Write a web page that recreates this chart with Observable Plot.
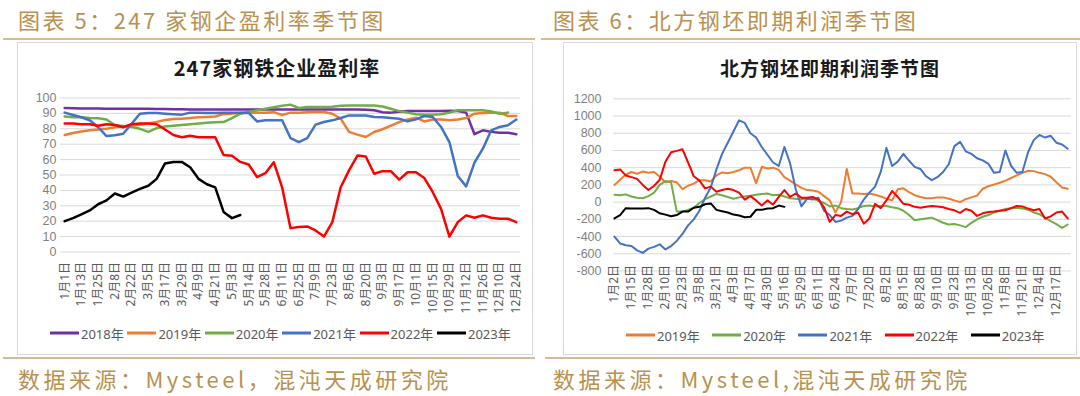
<!DOCTYPE html>
<html lang="zh-CN">
<head>
<meta charset="utf-8">
<script src="https://cdn.jsdelivr.net/npm/d3@7"></script>
<script src="https://cdn.jsdelivr.net/npm/@observablehq/plot@0.6"></script>
<style>
html,body{margin:0;padding:0;background:#fff;}
#page{position:relative;width:1080px;height:396px;overflow:hidden;font-family:"Noto Sans CJK SC","Noto Sans",sans-serif;}
.hd{position:absolute;font-size:22px;line-height:26px;color:#b8914f;letter-spacing:2.5px;white-space:nowrap;}
.rule{position:absolute;height:2px;background:#d4bb92;}
.box{position:absolute;top:42px;height:313px;border:1px solid #d9d9d9;box-sizing:border-box;background:#fff;}
.ttl{position:absolute;font-weight:700;color:#1a1a1a;white-space:nowrap;transform:translate(-50%,-50%);}
.leg{position:absolute;display:flex;align-items:center;font-family:"Noto Sans","Noto Sans CJK SC",sans-serif;font-size:13px;color:#595959;white-space:nowrap;transform:translateY(-50%);}
.leg i{display:inline-block;width:29px;height:3px;margin-right:2px;}
.plot{position:absolute;}
</style>
</head>
<body>
<div id="page"></div>
<script>
// ---------- Chart 5: 247家钢铁企业盈利率 (weekly, %) ----------
const lbl5 = ["1月1日","1月13日","1月25日","2月8日","2月22日","3月5日","3月17日","3月29日","4月9日","4月21日","5月3日","5月14日","5月28日","6月11日","6月25日","7月9日","7月23日","8月6日","8月20日","9月3日","9月17日","10月1日","10月15日","10月29日","11月12日","11月26日","12月10日","12月24日"];
const yTicks5 = [0,10,20,30,40,50,60,70,80,90,100];
const s2018 = [93.5,93.3,93.2,93.2,93.2,93.1,93.1,93.1,93,93,93,
  92.8,92.8,92.7,92.7,92.6,92.5,92.5,92.5,92.5,92.5,92.5,92.5,92.5,92.5,92.5,92.5,92.5,92.5,92.5,92.5,92.5,92.5,92.5,92.5,92.5,92.3,92,
  90.8,90.5,91,91.5,91.5,91.5,91.5,91.5,91.8,91.5,90.5,76.5,79,78,77.5,77.5,76.5];
const s2019 = [76,77.3,78.3,79,79.5,80,81,81.6,82,82.7,
  83.5,84.5,85.7,86.3,86.6,87,87.5,87.7,88,89.5,
  90,90.3,90.5,90.5,90.5,90.8,89,90.5,90.5,90.7,
  90.9,90.9,89.8,86.6,78,76.2,74.7,77.9,79.7,82,
  84.4,86.1,87.2,84.8,86,86.1,85.5,86,87,89.8,
  90.3,90.5,90.5,88.3,88.3];
const s2020 = [88,87.5,87.5,87,86.8,86,82.3,81.8,81.2,80,
  78,80.5,81.5,82,82.5,83,83.5,84,84.2,84.4,
  87,89.8,91,92,93,94,95,95.7,93.5,94.2,
  94.2,94.2,94.3,95,95.2,95.2,95.2,95.2,94.5,93,
  91.5,90.5,89.5,89.2,89.2,89.5,90.5,92,92,92,
  92,91.2,89.8,90.5];
const s2021 = [90.5,89,87.5,85.5,81,75.3,75.8,76.8,83.3,89.8,
  90.3,90.2,89.8,89.5,89.2,90.5,90.4,90.3,90.3,90.4,
  90.5,90.5,90.3,84.8,85.5,85.5,85.5,74,71.4,74,
  82.7,84.4,85.5,87,88.7,88.7,88.7,87.7,87.5,87,
  86.6,84.8,86.1,88.3,87.7,81.2,71.4,49.4,42.6,58,
  67.1,79,81.2,82.3,86];
const s2022 = [83.5,83.5,83,83,82,83,82.5,81,83,83.5,
  83.5,83,79.5,76,74.5,75.5,74.5,74.5,74.5,63,
  62.5,58.5,56.8,48.6,51.2,58.3,42,15.5,16.2,16.6,
  14,10,19.4,42,53,62.6,62,50.8,52.5,52.5,
  47,51.8,51.8,48,39,28,10,19.4,23.8,22.2,
  23.8,22.2,21.6,21.6,19.4];
const s2023 = [20,22,24.5,27,31,33.5,38,36,38.5,41,43,47.5,57.5,58.5,58.5,55,47.5,44,42,26,22,24];

// ---------- Chart 6: 北方钢坯即期利润 (daily, sampled every 3 trading days) ----------
const lbl6 = ["1月2日","1月15日","1月28日","2月10日","2月23日","3月8日","3月21日","4月3日","4月17日","4月30日","5月16日","5月29日","6月11日","6月24日","7月7日","7月20日","8月2日","8月15日","8月28日","9月10日","9月23日","10月13日","10月26日","11月8日","11月21日","12月4日","12月17日"];
const yTicks6 = [-800,-600,-400,-200,0,200,400,600,800,1000,1200];
const p2019 = [200,260,320,350,330,355,340,350,295,230,
  245,230,150,190,215,255,255,240,310,345,
  335,350,370,400,400,220,410,390,400,375,
  290,250,205,165,140,135,120,70,20,-120,
  0,385,100,100,95,100,85,65,40,20,
  150,160,115,80,60,45,45,55,55,40,
  20,0,35,55,75,155,185,205,225,250,
  280,310,340,365,360,340,325,295,230,170,
  155];
const p2020 = [85,80,90,65,50,45,70,110,200,245,
  230,-110,-110,-90,-65,-10,35,65,95,80,
  60,40,55,65,75,85,95,100,80,85,
  65,45,40,30,45,40,15,-10,-50,-40,
  -70,-80,-85,-70,-45,-40,-50,-45,-45,-60,
  -70,-100,-150,-210,-200,-190,-180,-210,-240,-260,
  -255,-270,-290,-240,-200,-170,-150,-120,-100,-80,
  -70,-65,-75,-90,-120,-140,-180,-220,-255,-300,
  -260];
const p2021 = [-400,-480,-500,-510,-560,-590,-540,-520,-490,-550,
  -510,-450,-370,-270,-200,-100,50,170,380,560,
  690,820,950,920,800,750,640,550,460,420,
  640,450,150,-50,40,30,50,-100,-150,-230,
  -215,-180,-160,-80,30,110,180,350,630,420,
  470,560,480,410,385,300,255,290,350,440,
  650,700,590,560,510,485,445,340,350,600,
  420,340,350,580,720,780,750,770,690,670,
  620];
const p2022 = [370,380,310,290,270,200,140,190,260,470,
  580,595,615,460,300,250,160,180,120,140,
  155,140,110,30,70,20,-40,20,-30,60,
  140,60,100,50,50,60,30,-60,-230,-150,
  -160,-110,-140,-120,-250,-190,-20,-70,20,130,
  60,-20,-30,-55,-65,-55,-45,-50,-60,-80,
  -95,-125,-80,-100,-160,-130,-115,-110,-100,-95,
  -70,-45,-50,-75,-95,-80,-190,-165,-120,-110,
  -190];
const p2023 = [-190,-150,-70,-75,-75,-75,-70,-90,-130,-145,
  -165,-150,-110,-110,-65,-55,-25,-15,-90,-105,
  -120,-145,-155,-175,-170,-90,-90,-75,-70,-40,
  -55];

// ---------- styles ----------
const COL = {"2018年":"#7030a0","2019年":"#ed7d31","2020年":"#70ad47","2021年":"#4472c4","2022年":"#ff0000","2023年":"#000000"};
const series5 = [["2018年",s2018],["2019年",s2019],["2020年",s2020],["2021年",s2021],["2022年",s2022],["2023年",s2023]];
const series6 = [["2019年",p2019],["2020年",p2020],["2021年",p2021],["2022年",p2022],["2023年",p2023]];
const STEP6 = 3; // trading days between samples
const LBL_EVERY6 = 9; // trading days between axis labels

const page = document.getElementById("page");
function el(tag, cls, css, text){
  const e = document.createElement(tag);
  if (cls) e.className = cls;
  Object.assign(e.style, css || {});
  if (text != null) e.textContent = text;
  page.appendChild(e);
  return e;
}

// headers, rules, boxes, footers
el("div","hd",{left:"18px",top:"6px"},"图表 5：247 家钢企盈利率季节图");
el("div","hd",{left:"553px",top:"6px"},"图表 6：北方钢坯即期利润季节图");
el("div","rule",{left:"3px",width:"532px",top:"38px"});
el("div","rule",{left:"541px",width:"539px",top:"38px"});
el("div","box",{left:"17px",width:"516px"});
el("div","box",{left:"563px",width:"514px"});
el("div","rule",{left:"3px",width:"532px",top:"357px"});
el("div","rule",{left:"545px",width:"535px",top:"357px"});
el("div","hd",{left:"18px",top:"365px",letterSpacing:"3.5px"},"数据来源：Mysteel，混沌天成研究院");
el("div","hd",{left:"553px",top:"365px",letterSpacing:"3.5px"},"数据来源：Mysteel,混沌天成研究院");

// chart titles
el("div","ttl",{left:"277px",top:"67px",fontSize:"20px",letterSpacing:"1px"},"247家钢铁企业盈利率");
el("div","ttl",{left:"830px",top:"67px",fontSize:"19px",letterSpacing:"1px"},"北方钢坯即期利润季节图");

const FONT = '"Noto Sans","Noto Sans CJK SC",sans-serif';
const NUMFONT = '"Liberation Sans","Noto Sans",sans-serif';

// left plot
const plot5 = Plot.plot({
  width:516, height:313,
  marginLeft:43, marginRight:13, marginTop:55.5, marginBottom:103.5,
  style:{fontFamily:FONT, background:"transparent", overflow:"visible"},
  x:{type:"linear", domain:[-0.5,54.5]},
  y:{type:"linear", domain:[0,100]},
  marks:[
    Plot.gridY(yTicks5,{stroke:"#d9d9d9",strokeOpacity:1,strokeWidth:1}),
    Plot.axisY(yTicks5,{tickSize:0,tickPadding:4,fontSize:12.5,fontFamily:NUMFONT,letterSpacing:1,fill:"#7f7f7f",tickFormat:d=>String(d),label:null}),
    Plot.axisX(lbl5.map((_,j)=>2*j),{tickSize:0,tickPadding:10,tickRotate:-90,fontSize:12,fill:"#595959",tickFormat:d=>lbl5[d/2],label:null}),
    ...series5.map(([name,arr])=>Plot.lineY(arr,{x:(d,i)=>i,y:d=>d,stroke:COL[name],strokeWidth:2.5,strokeLinejoin:"round",strokeLinecap:"round"}))
  ]
});
plot5.classList.add("plot");
plot5.style.left="17px"; plot5.style.top="42px";
page.appendChild(plot5);

// right plot
const plot6 = Plot.plot({
  width:512, height:313,
  marginLeft:50, marginRight:4, marginTop:56.3, marginBottom:84.5,
  style:{fontFamily:FONT, background:"transparent", overflow:"visible"},
  x:{type:"linear", domain:[-0.5,242]},
  y:{type:"linear", domain:[-800,1200]},
  marks:[
    Plot.gridY(yTicks6,{stroke:"#d9d9d9",strokeOpacity:1,strokeWidth:1}),
    Plot.axisY(yTicks6,{tickSize:0,tickPadding:12,fontSize:12.5,fontFamily:NUMFONT,letterSpacing:0.5,fill:"#7f7f7f",tickFormat:d=>String(d),label:null}),
    Plot.axisX(lbl6.map((_,j)=>LBL_EVERY6*j),{tickSize:0,tickPadding:-6,tickRotate:-90,fontSize:12,fill:"#595959",tickFormat:d=>lbl6[d/LBL_EVERY6],label:null}),
    ...series6.map(([name,arr])=>Plot.lineY(arr,{x:(d,i)=>i*STEP6,y:d=>d,stroke:COL[name],strokeWidth:2,strokeLinejoin:"round",strokeLinecap:"round"}))
  ]
});
plot6.classList.add("plot");
plot6.style.left="563px"; plot6.style.top="42px";
page.appendChild(plot6);

// legends
function legend(items, x0, step, y){
  items.forEach(([name],j)=>{
    const d = el("div","leg",{left:(x0+j*step)+"px",top:y+"px"});
    const sw = document.createElement("i"); sw.style.background = COL[name];
    d.appendChild(sw);
    d.appendChild(document.createTextNode(name));
  });
}
legend(series5, 50, 77.4, 333);
legend(series6, 626, 86.2, 335);
</script>
</body>
</html>
